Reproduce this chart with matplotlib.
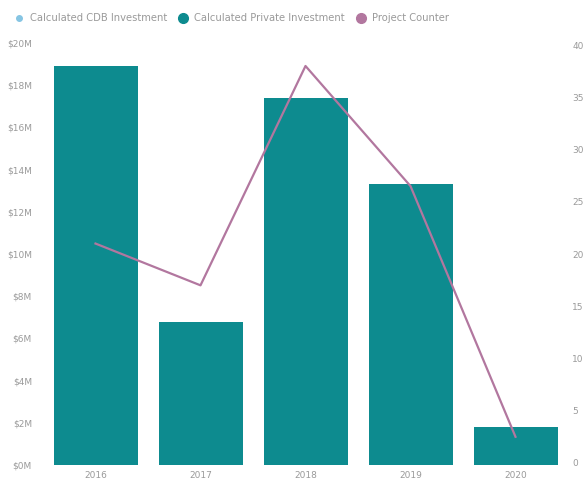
import matplotlib.pyplot as plt
from matplotlib.lines import Line2D

years = ['2016', '2017', '2018', '2019', '2020']
private_invest = [18.9, 6.8, 17.4, 13.3, 1.8]   # $M
cdb_invest = [0, 0, 0, 0, 0]                     # $M
project_count = [21, 17, 38, 26.5, 2.5]

left_ticks = list(range(0, 22, 2))
left_labels = ['$%dM' % t for t in left_ticks]
right_ticks = list(range(0, 45, 5))

teal = '#0d8b8f'
mauve = '#b2779f'
cdb_blue = '#86c5e3'
grey = '#9a9a9a'

fig = plt.figure(figsize=(5.84, 4.84), dpi=100)
ax = fig.add_axes([43/584, 19/484, 525/584, 422/484])
x = range(len(years))
ax.bar(x, private_invest, width=0.8, color=teal, zorder=2)
ax.bar(x, cdb_invest, width=0.8, bottom=private_invest, color=cdb_blue, zorder=2)
ax.set_xlim(-0.5, len(years) - 0.5)
ax.set_ylim(0, 20)
ax.set_xticks(list(x))
ax.set_xticklabels(years)
ax.set_yticks(left_ticks)
ax.set_yticklabels(left_labels)

ax2 = ax.twinx()
ax2.plot(x, project_count, color=mauve, lw=1.6, zorder=3)
ax2.set_ylim(-0.2, 40.2)
ax2.set_yticks(right_ticks)

for a in (ax, ax2):
    for s in a.spines.values():
        s.set_visible(False)
    a.tick_params(length=0, labelsize=6.5, colors=grey)
ax.tick_params(axis='y', pad=8)
ax.tick_params(axis='x', pad=4)
ax2.tick_params(axis='y', pad=3)

handles = [
    Line2D([], [], ls='', marker='o', ms=4, color=cdb_blue),
    Line2D([], [], ls='', marker='o', ms=7, color=teal),
    Line2D([], [], ls='', marker='o', ms=7, color=mauve),
]
labels = ['Calculated CDB Investment', 'Calculated Private Investment', 'Project Counter']
fig.legend(handles, labels, loc='upper left', bbox_to_anchor=(0.005, 0.985), ncol=3,
           frameon=False, fontsize=7.2, labelcolor=grey, handletextpad=0.1,
           columnspacing=0.6, borderaxespad=0.2)

fig.savefig('out.png', dpi=100, facecolor='white')
